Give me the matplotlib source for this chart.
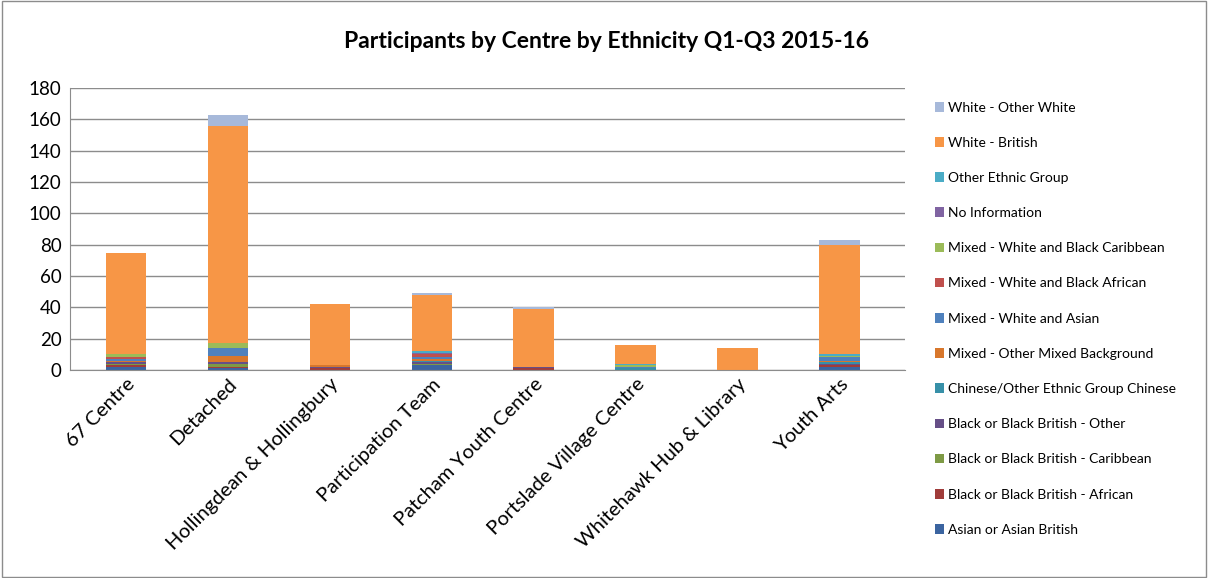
import numpy as np
import matplotlib
matplotlib.use("Agg")
import matplotlib.pyplot as plt

plt.rcParams['font.family'] = ['Lato', 'DejaVu Sans']

centres = ["67 Centre", "Detached", "Hollingdean & Hollingbury", "Participation Team",
           "Patcham Youth Centre", "Portslade Village Centre", "Whitehawk Hub & Library", "Youth Arts"]

series_names = [
    "Asian or Asian British",
    "Black or Black British - African",
    "Black or Black British - Caribbean",
    "Black or Black British - Other",
    "Chinese/Other Ethnic Group Chinese",
    "Mixed - Other Mixed Background",
    "Mixed - White and Asian",
    "Mixed - White and Black African",
    "Mixed - White and Black Caribbean",
    "No Information",
    "Other Ethnic Group",
    "White - British",
    "White - Other White",
]

asian          = [2, 1, 0, 3, 0, 0, 0, 2]
black_african  = [1, 1, 1, 0, 1, 0, 0, 1]
black_carib    = [1, 2, 0, 1, 0, 0, 0, 0]
black_other    = [1, 1, 1, 1, 1, 0, 0, 1]
chinese        = [0, 0, 0, 1, 0, 1, 0, 1]
mixed_other    = [1, 4, 1, 1, 0, 0, 0, 1]
white_asian    = [1, 5, 0, 1, 0, 1, 0, 2]
white_bl_afr   = [1, 0, 0, 2, 0, 0, 0, 0]
white_bl_carib = [2, 3, 0, 0, 0, 1, 0, 1]
no_info        = [0, 0, 0, 1, 0, 0, 0, 0]
other_ethnic   = [0, 0, 0, 1, 0, 1, 0, 1]
white_british  = [65, 139, 39, 36, 37, 12, 14, 70]
white_other    = [0, 7, 0, 1, 1, 0, 0, 3]

values = [asian, black_african, black_carib, black_other, chinese, mixed_other,
          white_asian, white_bl_afr, white_bl_carib, no_info, other_ethnic,
          white_british, white_other]

colors = ["#3B64A0", "#A03C3A", "#7E9A45", "#664F87", "#3790A8", "#D8772C",
          "#4F81BD", "#C0504D", "#9BBB59", "#8064A2", "#4BACC6", "#F79646", "#A7B9DA"]

fig = plt.figure(figsize=(12.08, 5.78), dpi=100)
ax = fig.add_axes([70 / 1208, 1 - 370 / 578, 835 / 1208, 282 / 578])

x = np.arange(len(centres))
bottom = np.zeros(len(centres))
handles = []
for name, vals, col in zip(series_names, values, colors):
    b = ax.bar(x, vals, 0.4, bottom=bottom, color=col, label=name)
    handles.append(b)
    bottom += np.array(vals)

ax.set_ylim(0, 180)
ax.set_yticks(np.arange(0, 181, 20))
ax.set_xlim(-0.55, 7.64)
ax.set_axisbelow(True)
ax.yaxis.grid(True, color='#8c8c8c', linewidth=1)
ax.tick_params(axis='y', labelsize=13.5, length=0, pad=6)
ax.tick_params(axis='x', labelsize=14.5, length=0, pad=4)
ax.set_xticks(x)
ax.set_xticklabels(centres, rotation=45, ha='right', rotation_mode='anchor')
for s in ['top', 'right']:
    ax.spines[s].set_visible(False)
ax.spines['left'].set_color('#8c8c8c')
ax.spines['bottom'].set_color('#8c8c8c')

fig.text(607 / 1208, 1 - 42 / 578, "Participants by Centre by Ethnicity Q1-Q3 2015-16",
         ha='center', va='center', fontsize=16.5, fontweight='bold')

leg = fig.legend(handles[::-1], series_names[::-1], loc='upper left',
                 bbox_to_anchor=(922 / 1208, 1 - 89 / 578), frameon=False,
                 fontsize=10, labelspacing=1.67, handlelength=0.7, handleheight=0.7,
                 handletextpad=0.3)

fig.add_artist(plt.Rectangle((0.002, 0.002), 0.996, 0.996, transform=fig.transFigure,
                             fill=False, edgecolor='#8c8c8c', linewidth=1))

fig.savefig("out.png", dpi=100)
